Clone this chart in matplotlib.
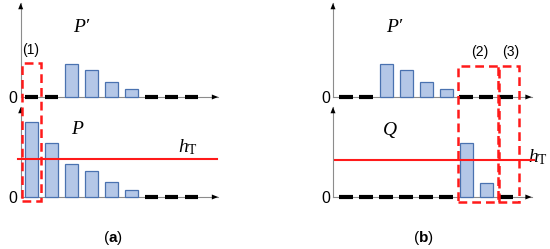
import matplotlib
matplotlib.use("Agg")
import matplotlib.pyplot as plt
from matplotlib.patches import Rectangle

plt.rcParams['mathtext.fontset'] = 'custom'
plt.rcParams['mathtext.rm'] = 'Liberation Serif'
plt.rcParams['mathtext.it'] = 'Liberation Serif:italic'
plt.rcParams['mathtext.bf'] = 'Liberation Sans:bold'

# ---- data (heights in arbitrary units, slots 0..8) ----
n_slots = 9
a_top_slots = [2, 3, 4, 5]
a_top_vals = [33, 27, 15, 8]            # P'
a_bot_slots = [0, 1, 2, 3, 4, 5]
a_bot_vals = [75, 54, 33, 26, 15, 7.5]  # P
b_top_slots = [2, 3, 4, 5]
b_top_vals = [33.5, 27, 15.5, 8.5]      # P'
b_bot_slots = [6, 7]
b_bot_vals = [54, 14.5]                 # Q
h_T_a = 38
h_T_b = 37

TOP = 100   # baseline offset of upper sub-chart

W, H = 550, 249
fig = plt.figure(figsize=(W / 100, H / 100), dpi=100)

bar_face = '#b4c7e7'
bar_edge = '#4a72b0'
axis_col = '#8c8c8c'
red = '#ff1a1a'
serif_it = dict(family=['Liberation Serif', 'DejaVu Serif'], style='italic', fontsize=14)


def make_ax(px0, slot0_px):
    left_px, right_px = px0, px0 + 240
    ax = fig.add_axes([left_px / W, 0, (right_px - left_px) / W, 1])
    ax.set_xlim((left_px - slot0_px) / 20, (right_px - slot0_px) / 20)
    ax.set_ylim(197 - H, 197)
    ax.axis('off')
    return ax


def arrow(ax, x0, y0, x1, y1):
    ax.annotate('', xy=(x1, y1), xytext=(x0, y0),
                arrowprops=dict(arrowstyle='-|>,head_length=0.45,head_width=0.18',
                                color='black', lw=0.0, shrinkA=0, shrinkB=0))
    ax.plot([x0, x1], [y0, y1], color=axis_col, lw=0.8, zorder=1)


def sub_chart(ax, base, slots, vals, yax_x, xend, ytop):
    arrow(ax, yax_x, base, xend, base)
    arrow(ax, yax_x, base, yax_x, ytop)
    for s in range(n_slots):
        if s not in slots:
            ax.plot([s - 0.33, s + 0.33], [base, base], color='black', lw=3.0,
                    solid_capstyle='butt', zorder=3)
    ax.bar(slots, vals, width=0.65, bottom=base, color=bar_face,
           edgecolor=bar_edge, linewidth=0.9, zorder=2)
    ax.text(yax_x - 0.15, base - 1, '0', ha='right', va='center',
            fontsize=11.5, family='Liberation Sans')


def box(ax, x0, x1, y0, y1):
    ax.add_patch(Rectangle((x0, y0), x1 - x0, y1 - y0, fill=False,
                           edgecolor=red, lw=1.8, linestyle=(0, (3.5, 2.0)),
                           zorder=5))


# ---------- panel (a) ----------
axa = make_ax(0, 31.5)
sub_chart(axa, TOP, a_top_slots, a_top_vals, -0.54, 9.33, 194)
sub_chart(axa, 0, a_bot_slots, a_bot_vals, -0.54, 9.33, 90)
axa.plot([-0.675, 9.275], [h_T_a, h_T_a], color=red, lw=1.5, zorder=4)
box(axa, -0.47, 0.47, -4, 134)
axa.text(-0.05, 147, '(1)', ha='center', va='center', fontsize=10,
         family='Liberation Sans')
axa.text(2.5, 170, "P\u2032", ha='center', va='center', **serif_it)
axa.text(2.3, 68, "P", ha='center', va='center', **serif_it)
axa.text(7.8, 50, r"$h_\mathrm{T}$", ha='center', va='center', fontsize=14)
axa.text(4.05, -41, r"($\mathbf{a}$)", ha='center', va='center',
         fontsize=11, family='Liberation Sans')

# ---------- panel (b) ----------
axb = make_ax(305, 346)
sub_chart(axb, TOP, b_top_slots, b_top_vals, -0.65, 9.28, 194)
sub_chart(axb, 0, b_bot_slots, b_bot_vals, -0.65, 9.28, 90)
axb.plot([-0.55, 9.4], [h_T_b, h_T_b], color=red, lw=1.5, zorder=4)
box(axb, 5.6, 7.65, -5, 131)
box(axb, 7.62, 8.67, -5, 131)
axb.text(6.7, 145, '(2)', ha='center', va='center', fontsize=10,
         family='Liberation Sans')
axb.text(8.25, 145, '(3)', ha='center', va='center', fontsize=10,
         family='Liberation Sans')
axb.text(2.4, 170, "P\u2032", ha='center', va='center', **serif_it)
axb.text(2.2, 67, "Q", ha='center', va='center', **serif_it)
axb.text(10.08, 40, r"$h_\mathrm{T}$", ha='right', va='center', fontsize=14)
axb.text(3.85, -41, r"($\mathbf{b}$)", ha='center', va='center',
         fontsize=11, family='Liberation Sans')

fig.savefig('out.png', dpi=100)
